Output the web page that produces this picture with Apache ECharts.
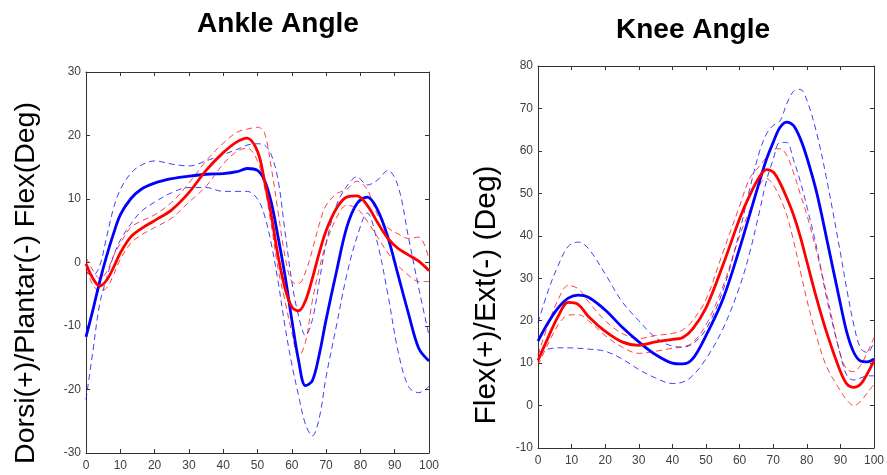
<!DOCTYPE html>
<html>
<head>
<meta charset="utf-8">
<script src="https://cdn.jsdelivr.net/npm/echarts@6/dist/echarts.min.js"></script>
<style>
  html, body { margin: 0; padding: 0; background: #fff; }
  #main { width: 887px; height: 475px; }
</style>
</head>
<body>
<div id="main"></div>
<script>
// 步态周期 (%)
const ankleX = [0, 2, 4, 6, 8, 10, 13, 16, 20, 25, 30, 35, 40, 44, 47, 50, 52, 54, 56, 58, 60, 62, 64, 66, 68, 70, 73, 76, 79, 82, 85, 88, 91, 94, 97, 100]
const ankleBlueMean = [-11.7, -7.5, -3, 1, 4.5, 7.5, 10, 11.5, 12.5, 13.2, 13.6, 13.9, 14, 14.3, 14.8, 14.5, 13, 9.5, 4, -2, -9, -15.5, -19.4, -18.6, -14.5, -9, -1.5, 5.5, 9.3, 10.3, 8.3, 4, -2, -8, -13.5, -15.5]
const ankleBlueUpper = [-1.5, -2, -0.5, 4, 8.5, 11.5, 14, 15.3, 16, 15.5, 15.2, 16, 17, 17.8, 18.5, 18.7, 18.5, 17, 13, 5, -3, -8.5, -11.5, -9, -3, 3, 9, 12, 13.5, 12.2, 13, 14.5, 12, 4, -4, -11.5]
const ankleBlueLower = [-21.6, -14, -6.5, -2.5, 1, 3.5, 6, 8, 9.5, 11, 11.8, 11.8, 11.2, 11.2, 11.2, 10, 7.5, 3, -3, -10, -16, -21, -25.5, -27.3, -24.5, -18, -10, -2, 4, 7.8, 3, -5, -14, -19.5, -20.5, -19.5]
const ankleRedMean = [-0.2, -2.5, -3.7, -2.8, -0.8, 1.5, 4, 5.3, 6.6, 8.3, 11, 14.5, 17.3, 19, 19.6, 17.5, 13, 7.5, 1, -4, -7, -7.6, -6, -2.5, 1.5, 5, 8.5, 10.3, 10.5, 9, 6.3, 3.8, 2.2, 1.2, 0.2, -1.3]
const ankleRedUpper = [0.8, -1.2, -2.5, -1.5, 1, 3, 5.5, 6.5, 7.5, 9.5, 12.5, 16, 18.8, 20.5, 21, 21.3, 20.5, 15, 8, 1, -3, -3.3, -1.5, 2, 6, 9, 10.8, 11.5, 12.8, 11.5, 7.5, 5.5, 4.5, 3.8, 4, 0.5]
const ankleRedLower = [-1, -3.5, -4.5, -4, -2, 0.5, 3, 4.3, 5.5, 7, 9.5, 12, 15.5, 17.5, 18, 16, 12, 6, -1, -6, -11, -14.8, -12.5, -6, -1, 3, 7, 9, 8.5, 6.5, 4, 1.5, -0.5, -2, -3, -3]

const kneeX = [0, 3, 6, 9, 12, 15, 20, 25, 30, 35, 40, 43, 46, 50, 55, 60, 63, 66, 68, 70, 72, 74, 76, 78, 80, 83, 86, 90, 92, 94, 96, 98, 100]
const kneeBlueMean = [15.2, 19.5, 23, 25.3, 26, 25.5, 22.5, 18.5, 15, 12, 10, 9.8, 11, 16.5, 25, 37, 45, 53, 58, 62, 65.5, 66.8, 66, 63, 58.5, 50, 39, 24, 17, 12.5, 10.5, 10.3, 11]
const kneeBlueUpper = [19.5, 27, 33, 37.5, 38.5, 37, 31, 24.5, 20, 16, 14, 13.8, 14.5, 18, 27, 41, 51, 60, 64, 66, 67, 71, 74, 74.5, 72, 64, 53, 36, 27, 19, 13.5, 12.5, 15]
const kneeBlueLower = [12.5, 13.3, 13.6, 13.6, 13.5, 13.3, 12.8, 11, 8.5, 6.5, 5.2, 5.5, 7, 11, 18, 28, 36, 46, 53, 58, 62, 62, 58, 53, 47, 37, 25, 12, 7, 6, 6.5, 7, 7]
const kneeRedMean = [10.6, 16, 21, 24.3, 23.8, 21, 17.5, 15, 14.2, 15, 15.6, 16, 18, 23, 33, 44, 49.5, 54, 55.6, 55, 52.5, 49, 45, 40, 34, 25, 17, 8, 5, 4.3, 5, 7.5, 10.5]
const kneeRedUpper = [12, 19, 25, 28.3, 27.5, 24.5, 20, 17, 15.8, 16.5, 17, 17.8, 20, 25, 36, 47, 53.5, 56.5, 58.5, 60.5, 60.5, 59, 55, 50, 45, 36, 26, 12, 8.5, 8, 9.5, 12.5, 16]
const kneeRedLower = [9.5, 14.5, 19, 21.3, 21.4, 20, 16.5, 13.8, 12.3, 12.8, 13.5, 13.8, 14.8, 19, 28, 40, 46, 52, 53.5, 52, 49, 45, 39, 32, 25, 16, 9, 3.5, 1.2, 0, 1, 3, 5]

const BLUE = "#0000ff"
const RED = "#ff0000"
const labelFont = "'Liberation Sans Narrow', 'Liberation Sans', Arial, sans-serif"
const textFont = "'Liberation Sans', Arial, sans-serif"

function pairs(xs, ys) {
  return xs.map((x, i) => [x, ys[i]])
}

// 主轴 (带标签)
function xAxisMain(gridIndex) {
  return {
    type: "value", gridIndex, min: 0, max: 100, interval: 10, position: "bottom",
    axisLine: { show: true, onZero: false, lineStyle: { color: "#333", width: 1 } },
    axisTick: { show: true, inside: true, length: 4, lineStyle: { color: "#333" } },
    axisLabel: { color: "#404040", fontSize: 12, fontFamily: labelFont, margin: 7 },
    splitLine: { show: false },
  }
}
// 顶部/右侧只画刻度
function xAxisTop(gridIndex) {
  return {
    type: "value", gridIndex, min: 0, max: 100, interval: 10, position: "top",
    axisLine: { show: true, onZero: false, lineStyle: { color: "#333", width: 1 } },
    axisTick: { show: true, inside: true, length: 4, lineStyle: { color: "#333" } },
    axisLabel: { show: false },
    splitLine: { show: false },
  }
}
function yAxisMain(gridIndex, min, max) {
  return {
    type: "value", gridIndex, min, max, interval: 10, position: "left",
    axisLine: { show: true, onZero: false, lineStyle: { color: "#333", width: 1 } },
    axisTick: { show: true, inside: true, length: 4, lineStyle: { color: "#333" } },
    axisLabel: { color: "#404040", fontSize: 12, fontFamily: labelFont, margin: 5 },
    splitLine: { show: false },
  }
}
function yAxisRight(gridIndex, min, max) {
  return {
    type: "value", gridIndex, min, max, interval: 10, position: "right",
    axisLine: { show: true, onZero: false, lineStyle: { color: "#333", width: 1 } },
    axisTick: { show: true, inside: true, length: 4, lineStyle: { color: "#333" } },
    axisLabel: { show: false },
    splitLine: { show: false },
  }
}

function line(data, color, dashed, xi, yi) {
  return {
    type: "line", xAxisIndex: xi, yAxisIndex: yi, data, smooth: 0.35,
    showSymbol: false, symbol: "none", silent: true,
    lineStyle: dashed
      ? { color, width: 1, type: [6, 4], opacity: 0.75 }
      : { color, width: 2.8 },
    z: dashed ? 2 : 3,
  }
}

// 竖排的y轴标题
function yTitle(text, x, y, size) {
  return {
    type: "text", x, y, rotation: Math.PI / 2,
    style: { text, align: "center", verticalAlign: "middle", fill: "#000", font: size + "px " + textFont },
  }
}

const option = {
  backgroundColor: "#fff",
  animation: false,
  title: [
    { text: "Ankle Angle", left: 273, top: 5, textAlign: "center",
      textStyle: { fontSize: 28, fontWeight: "bold", color: "#000", fontFamily: textFont } },
    { text: "Knee Angle", left: 688, top: 11, textAlign: "center",
      textStyle: { fontSize: 28, fontWeight: "bold", color: "#000", fontFamily: textFont } },
  ],
  graphic: [
    yTitle("Dorsi(+)/Plantar(-) Flex(Deg)", 26, 283, 28.5),
    yTitle("Flex(+)/Ext(-) (Deg)", 487, 295, 30),
  ],
  grid: [
    { left: 86, top: 72, width: 343, height: 381 },
    { left: 538, top: 66, width: 345, height: 382 },
  ],
  xAxis: [xAxisMain(0), xAxisTop(0), xAxisMain(1), xAxisTop(1)],
  yAxis: [
    yAxisMain(0, -30, 30),
    yAxisRight(0, -30, 30),
    yAxisMain(1, -10, 80),
    yAxisRight(1, -10, 80),
  ],
  series: [
    line(pairs(ankleX, ankleBlueUpper), BLUE, true, 0, 0),
    line(pairs(ankleX, ankleBlueLower), BLUE, true, 0, 0),
    line(pairs(ankleX, ankleRedUpper), RED, true, 0, 0),
    line(pairs(ankleX, ankleRedLower), RED, true, 0, 0),
    line(pairs(ankleX, ankleBlueMean), BLUE, false, 0, 0),
    line(pairs(ankleX, ankleRedMean), RED, false, 0, 0),
    line(pairs(kneeX, kneeBlueUpper), BLUE, true, 2, 2),
    line(pairs(kneeX, kneeBlueLower), BLUE, true, 2, 2),
    line(pairs(kneeX, kneeRedUpper), RED, true, 2, 2),
    line(pairs(kneeX, kneeRedLower), RED, true, 2, 2),
    line(pairs(kneeX, kneeBlueMean), BLUE, false, 2, 2),
    line(pairs(kneeX, kneeRedMean), RED, false, 2, 2),
  ],
}

const chart = echarts.init(document.getElementById("main"))
chart.setOption(option)
</script>
</body>
</html>
